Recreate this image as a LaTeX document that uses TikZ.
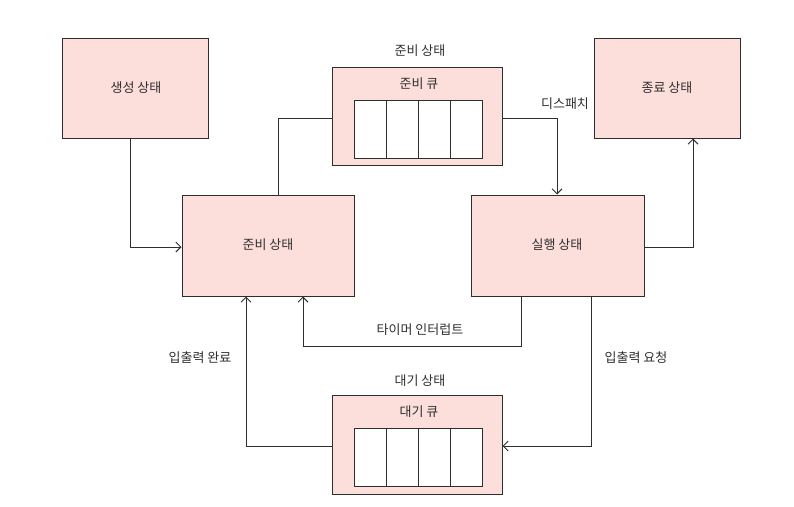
\documentclass[tikz,border=0pt]{standalone}
\usepackage{fontspec}
\setmainfont{Noto Sans CJK KR}
\usetikzlibrary{arrows.meta}
\definecolor{boxpink}{HTML}{FCDEDA}
\definecolor{linegray}{HTML}{2E2E2E}
\tikzset{
  statebox/.style={draw=linegray, line width=1pt, fill=boxpink, minimum width=#1, inner sep=0pt},
  cell/.style={draw=linegray, line width=1pt, fill=white, minimum width=32pt, minimum height=58pt, inner sep=0pt},
  conn/.style={draw=linegray, line width=1pt},
  arr/.style={conn, -{Straight Barb[length=5pt,width=10pt]}},
  lbl/.style={font=\fontsize{13}{15}\selectfont, text=linegray, inner sep=1pt}
}
\begin{document}
\begin{tikzpicture}[x=1pt,y=-1pt]
\useasboundingbox (0,0) rectangle (794,506);
% boxes
\node[statebox=146pt, minimum height=100pt] (create) at (135,88) {};
\node[lbl] (createT) at (136,88) {생성 상태};
\node[statebox=146pt, minimum height=100pt] (done) at (667,88) {};
\node[lbl] (doneT) at (667,88) {종료 상태};
\node[statebox=172pt, minimum height=101pt] (ready) at (268,245.5) {};
\node[lbl] (readyT) at (268,245) {준비 상태};
\node[statebox=173pt, minimum height=101pt] (run) at (557.5,245.5) {};
\node[lbl] (runT) at (557,245) {실행 상태};
% ready queue
\node[statebox=170pt, minimum height=98pt] (rq) at (417,116) {};
\node[lbl] (rqTop) at (420,51) {준비 상태};
\node[lbl] (rqT) at (419,84) {준비 큐};
\foreach \i/\x in {1/370,2/402,3/434,4/466} {\node[cell] (rc\i) at (\x,129) {};}
% wait queue
\node[statebox=170pt, minimum height=99pt] (wq) at (417,444.5) {};
\node[lbl] (wqTop) at (420,381) {대기 상태};
\node[lbl] (wqT) at (419,412) {대기 큐};
\foreach \i/\x in {1/370,2/402,3/434,4/466} {\node[cell] (wc\i) at (\x,457.5) {};}
% connectors
\coordinate (c1) at (130,247);
\draw[arr] (create.south -| c1) |- (ready.west |- c1);
\coordinate (c2) at (278,118);
\draw[conn] (ready.north -| c2) |- (rq.west |- c2);
\coordinate (c3) at (557,118);
\draw[arr] (rq.east |- c3) -| (run.north -| c3);
\node[lbl] (dispatch) at (565,104) {디스패치};
\coordinate (c4) at (693,247);
\draw[arr] (run.east |- c4) -| (done.south -| c4);
\coordinate (c5a) at (521,346);
\coordinate (c5b) at (303,346);
\draw[arr] (run.south -| c5a) -- (c5a) -- (c5b) -- (ready.south -| c5b);
\node[lbl] (timer) at (420,330) {타이머 인터럽트};
\coordinate (c6) at (591,446);
\draw[arr] (run.south -| c6) |- (wq.east |- c6);
\node[lbl] (ioreq) at (636,358) {입출력 요청};
\coordinate (c7) at (246,446);
\draw[arr] (wq.west |- c7) -| (ready.south -| c7);
\node[lbl] (iodone) at (200,358) {입출력 완료};
\end{tikzpicture}
\end{document}
